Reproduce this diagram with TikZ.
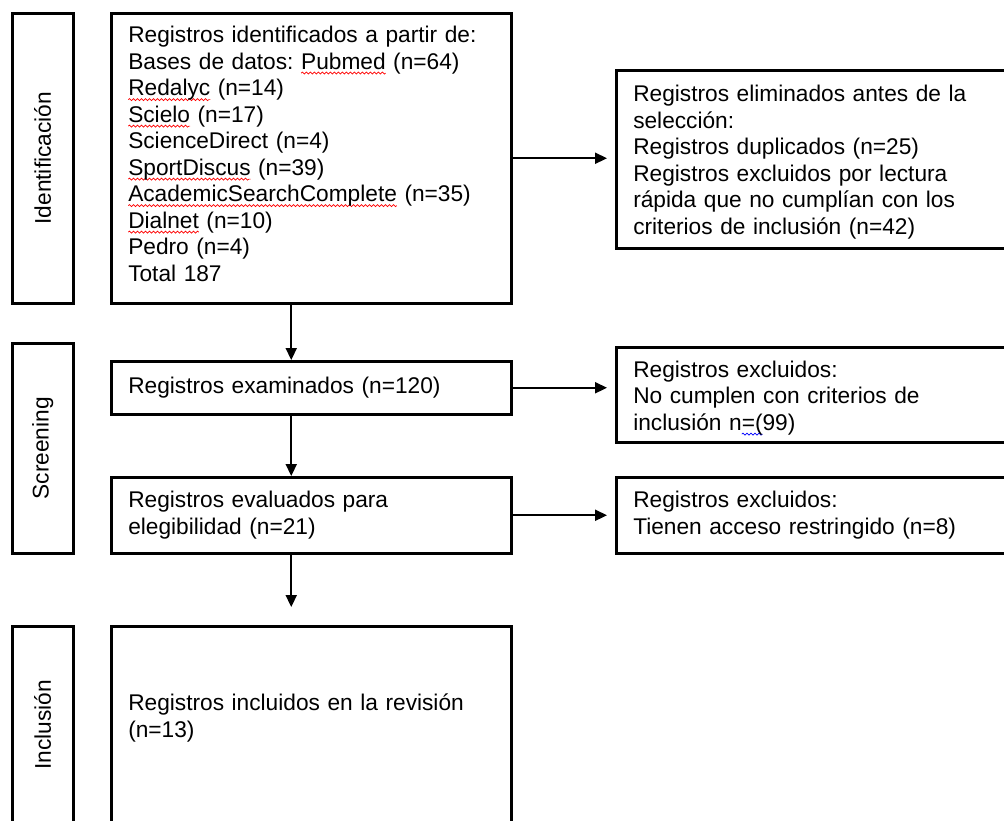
\documentclass[tikz,border=0pt]{standalone}
\usepackage{fontspec}
\setmainfont{Liberation Sans}
\usetikzlibrary{arrows.meta,calc,decorations.pathmorphing}
\frenchspacing
\newcommand\wavy[2]{\leavevmode\setbox0\hbox{#2}\rlap{\tikz[baseline=0pt,overlay]\draw[#1, line width=0.7pt, decorate, decoration={snake, amplitude=1pt, segment length=4pt}] (0pt,-4pt) -- (\the\wd0,-4pt);}\box0\relax}
\newcommand\rw[1]{\wavy{red}{#1}}
\newcommand\bw[1]{\wavy{blue}{#1}}
\newcommand\fs{\fontsize{22.7pt}{26.5pt}\selectfont\frenchspacing}
\begin{document}
\begin{tikzpicture}[x=1pt,y=-1pt,
  box/.style={draw, line width=2.5pt, anchor=north west, align=left,
    inner xsep=17pt, inner ysep=0pt, font=\fs, text width=#1},
  side/.style={draw, line width=2.5pt, anchor=north west, inner sep=0pt,
    minimum width=61pt, font=\fs},
  arr/.style={line width=2.2pt, -{Triangle[length=12pt,width=11pt]}}]
\useasboundingbox (0,0) rectangle (1004,820);
\clip (0,0) rectangle (1004,820);
% phase labels
\node[side, minimum height=290pt] (s1) at (11,12) {\rotatebox{90}{Identificación}};
\node[side, minimum height=210pt] (s2) at (11,342) {\rotatebox{90}{Screening}};
\node[side, minimum height=197pt] (s3) at (11,625) {\rotatebox{90}{Inclusión}};
% main boxes
\node[box=366pt, minimum height=290pt] (b1) at (110,12) {Registros identificados a partir de:\\
Bases de datos: \rw{Pubmed} (n=64)\\
\rw{Redalyc} (n=14)\\
\rw{Scielo} (n=17)\\
ScienceDirect (n=4)\\
\rw{SportDiscus} (n=39)\\
\rw{AcademicSearchComplete} (n=35)\\
\rw{Dialnet} (n=10)\\
Pedro (n=4)\\
Total 187\par\kern9pt};
\node[box=366pt, minimum height=53pt] (b2) at (110,360) {Registros examinados (n=120)};
\node[box=366pt, minimum height=76pt] (b3) at (110,476) {Registros evaluados para\\elegibilidad (n=21)};
\node[box=366pt, minimum height=197pt] (b4) at (110,625) {Registros incluidos en la revisión\\(n=13)\par\kern14pt};
% right boxes
\node[box=371pt, minimum height=178pt] (r1) at (615,69) {Registros eliminados antes de la\\
selección:\\
Registros duplicados (n=25)\\
Registros excluidos por lectura\\
rápida que no cumplían con los\\
criterios de inclusión (n=42)\par\kern-6pt};
\node[box=371pt, minimum height=95pt] (r2) at (615,346) {Registros excluidos:\\No cumplen con criterios de\\inclusión n\bw{=(}99)\par\kern-6pt};
\node[box=371pt, minimum height=76pt] (r3) at (615,476) {Registros excluidos:\\Tienen acceso restringido (n=8)};
% connectors
\draw[arr, shorten >=8pt] (b1.east) -- (b1.east -| r1.west);
\draw[arr, shorten >=8pt] (b2.east) -- (b2.east -| r2.west);
\draw[arr, shorten >=8pt] (b3.east) -- (b3.east -| r3.west);
\draw[arr] ($(b1.south)+(-20,0)$) -- ($(b2.north)+(-20,0)$);
\draw[arr] ($(b2.south)+(-20,0)$) -- ($(b3.north)+(-20,0)$);
\draw[arr, shorten >=18pt] ($(b3.south)+(-20,0)$) -- ($(b4.north)+(-20,0)$);
\end{tikzpicture}
\end{document}
